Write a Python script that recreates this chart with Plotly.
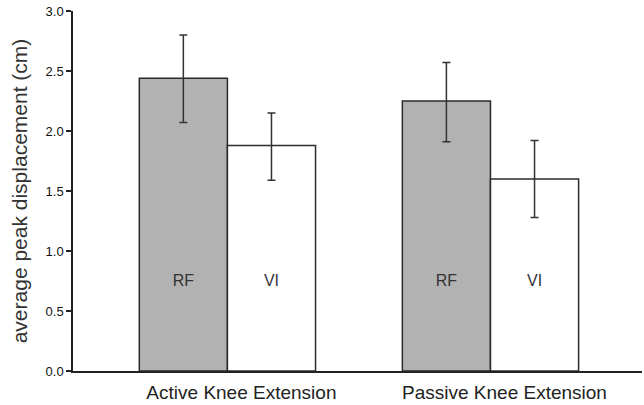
import plotly.graph_objects as go

categories = ["Active Knee Extension", "Passive Knee Extension"]
series_names = ["RF", "VI"]
rf_values = [2.44, 2.25]
rf_err_plus = [0.36, 0.32]
rf_err_minus = [0.37, 0.34]
vi_values = [1.88, 1.60]
vi_err_plus = [0.27, 0.32]
vi_err_minus = [0.29, 0.32]
label_level = [0.74, 0.74]
y_ticks = [0.0, 0.5, 1.0, 1.5, 2.0, 2.5, 3.0]
y_tick_labels = ["0.0", "0.5", "1.0", "1.5", "2.0", "2.5", "3.0"]

FONT = "Liberation Sans, Arial, sans-serif"

fig = go.Figure()
fig.add_trace(go.Bar(
    x=categories, y=rf_values, name=series_names[0], offsetgroup="rf",
    marker=dict(color="#b2b2b2", line=dict(color="#2b2b2b", width=1.5)),
    error_y=dict(type="data", symmetric=False, array=rf_err_plus, arrayminus=rf_err_minus,
                 color="#333333", thickness=1.5, width=4),
))
fig.add_trace(go.Bar(
    x=categories, y=vi_values, name=series_names[1], offsetgroup="vi",
    marker=dict(color="#ffffff", line=dict(color="#2b2b2b", width=1.5)),
    error_y=dict(type="data", symmetric=False, array=vi_err_plus, arrayminus=vi_err_minus,
                 color="#333333", thickness=1.5, width=4),
))
fig.add_trace(go.Scatter(
    x=categories, y=label_level, mode="text", text=[series_names[0]] * 2, offsetgroup="rf",
    textfont=dict(family=FONT, size=16, color="#333333"),
    showlegend=False, hoverinfo="skip",
))
fig.add_trace(go.Scatter(
    x=categories, y=label_level, mode="text", text=[series_names[1]] * 2, offsetgroup="vi",
    textfont=dict(family=FONT, size=16, color="#333333"),
    showlegend=False, hoverinfo="skip",
))

fig.update_layout(
    width=644, height=405,
    margin=dict(l=73, r=2, t=11, b=34, autoexpand=False),
    paper_bgcolor="white", plot_bgcolor="white",
    barmode="group", scattermode="group", bargap=0.33, bargroupgap=0, scattergap=0.33,
    showlegend=False,
    font=dict(family=FONT, color="#222222"),
)
fig.update_xaxes(
    range=[-0.587, 1.576], showline=True, linecolor="#222222", linewidth=1.5,
    ticks="", showgrid=False, zeroline=False, automargin=False,
    ticklabelshift=14, ticklabelstandoff=3,
    tickfont=dict(family=FONT, size=19, color="#222222"),
)
fig.update_yaxes(
    range=[0, 3.0], tickvals=y_ticks, ticktext=y_tick_labels,
    showline=True, linecolor="#222222", linewidth=1.5,
    ticks="outside", ticklen=5, tickwidth=1.5, tickcolor="#222222",
    showgrid=False, zeroline=False, automargin=False,
    tickfont=dict(family=FONT, size=13, color="#111111"),
    title=dict(text="average peak displacement (cm)", font=dict(family=FONT, size=21, color="#333333"), standoff=12),
)

fig.write_html("out.html", config={"displayModeBar": False},
               post_script="document.body.style.margin='0';")
